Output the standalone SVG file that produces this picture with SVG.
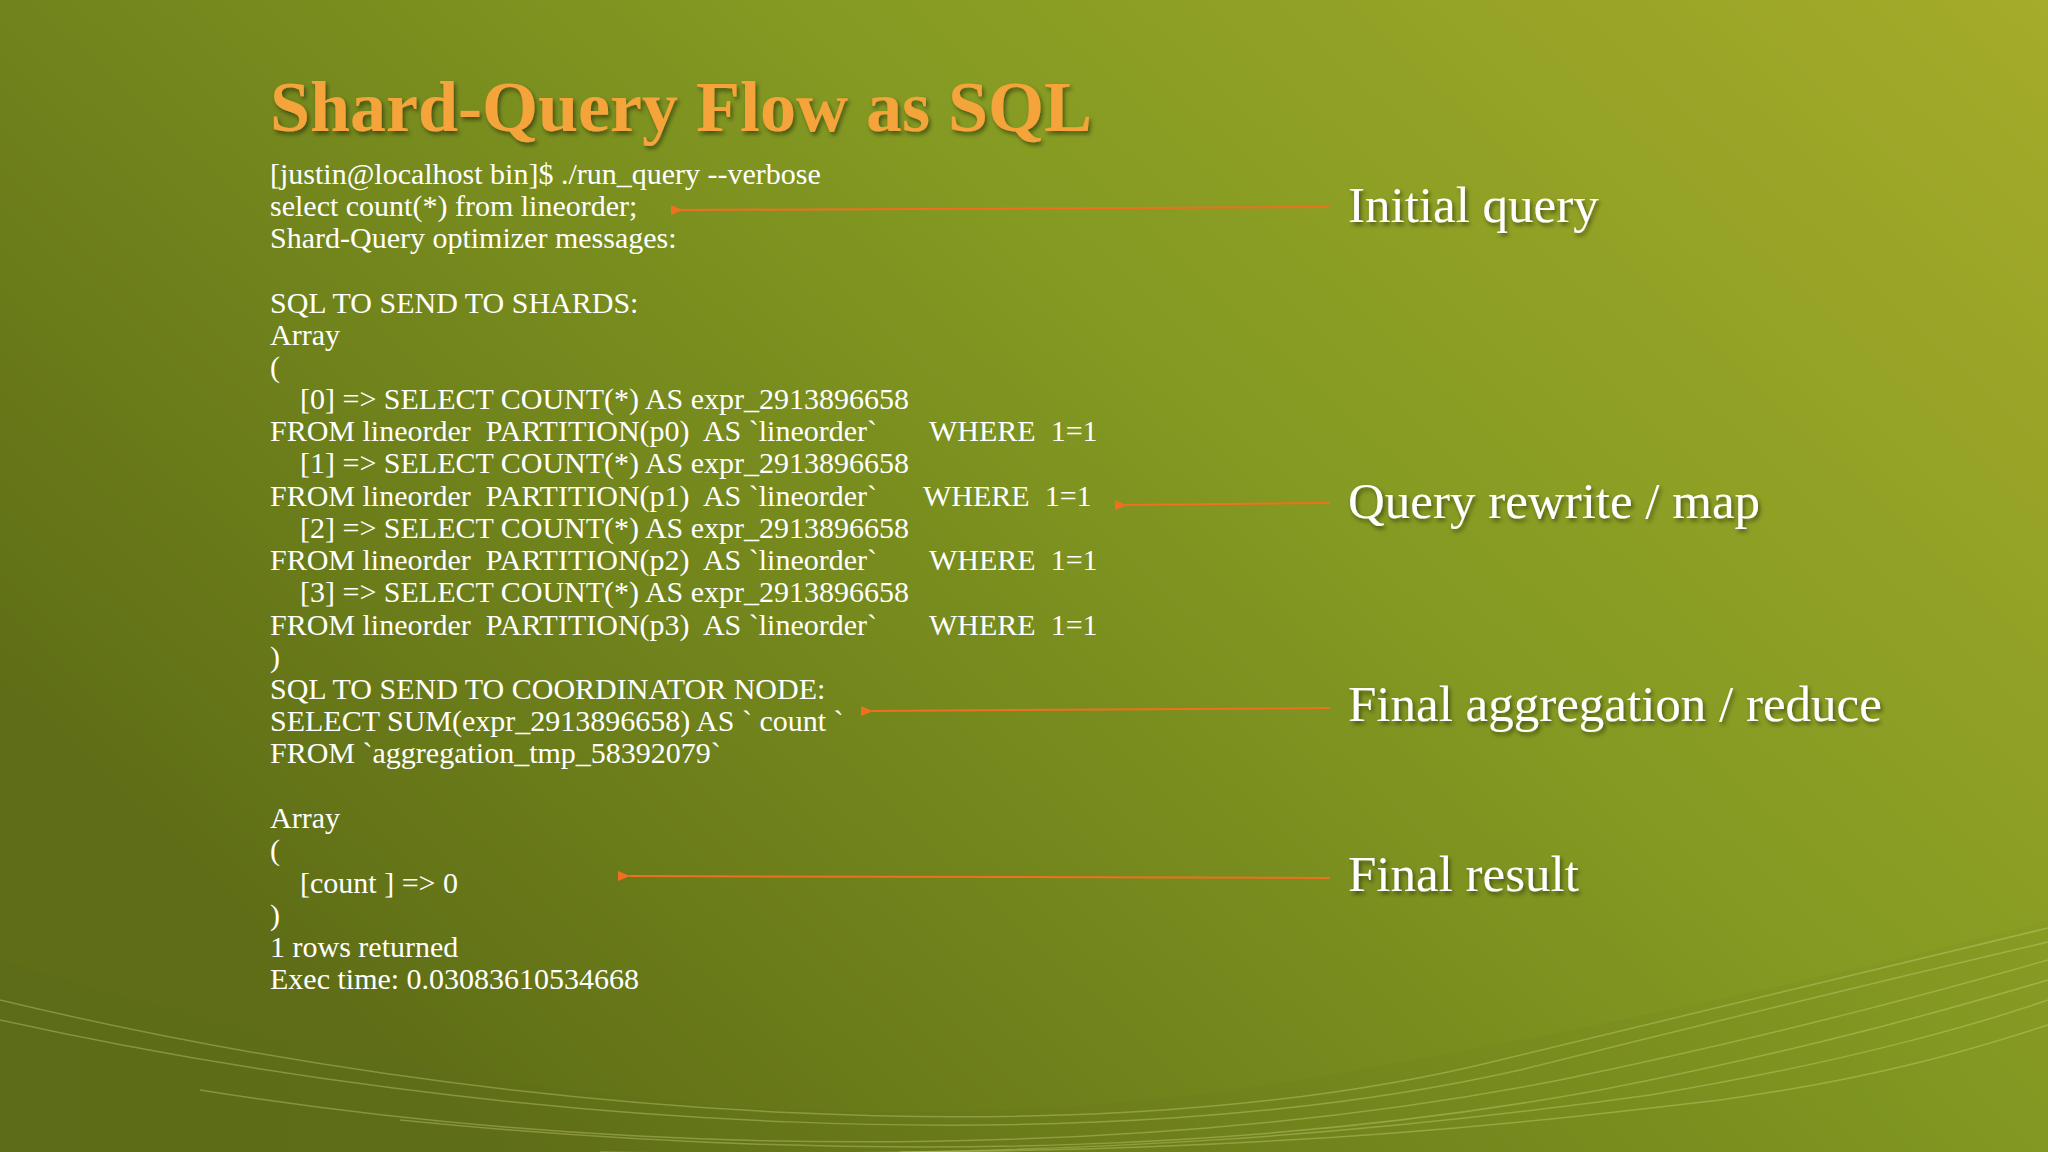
<svg xmlns="http://www.w3.org/2000/svg" width="2048" height="1152" viewBox="0 0 2048 1152">
<defs>
<linearGradient id="bg" x1="0" y1="0.6" x2="1" y2="0">
<stop offset="0" stop-color="#5f6e16"/>
<stop offset="0.55" stop-color="#849a22"/>
<stop offset="1" stop-color="#a5ab2a"/>
</linearGradient>
<linearGradient id="band" x1="0" y1="0" x2="1" y2="0">
<stop offset="0" stop-color="#56661a" stop-opacity="0.6"/>
<stop offset="1" stop-color="#6f8019" stop-opacity="0.2"/>
</linearGradient>
<marker id="ah" markerWidth="12" markerHeight="10" refX="1" refY="5" orient="auto" markerUnits="userSpaceOnUse">
<path d="M12,0 L0,5 L12,10 Z" fill="#f0701e"/>
</marker>
<filter id="sh" x="-5%" y="-20%" width="110%" height="150%">
<feDropShadow dx="2" dy="3" stdDeviation="2" flood-color="#000" flood-opacity="0.45"/>
</filter>
</defs>
<style>
.t{font-family:"Liberation Serif","DejaVu Serif",serif;font-size:30px;fill:#ffffff;white-space:pre}
.lbl{font-family:"Liberation Serif","DejaVu Serif",serif;font-size:51px;fill:#ffffff}
.ttl{font-family:"Liberation Serif","DejaVu Serif",serif;font-size:72px;font-weight:bold;fill:#f5a43a}
.arr{stroke:#f0701e;stroke-width:2;fill:none}
.w{fill:none;stroke:#d8dc8a;stroke-opacity:0.35;stroke-width:1.5}
</style>
<rect width="2048" height="1152" fill="url(#bg)"/>
<path d="M0,960 C400,1080 800,1160 1300,1080 C1650,1020 1900,960 2048,920 L2048,1152 L0,1152 Z" fill="url(#band)" opacity="0.5"/>
<g id="waves">
<path class="w" d="M0,1000 C500,1120 1100,1160 1500,1060 C1750,1000 1950,950 2048,928"/>
<path class="w" d="M0,1020 C500,1130 1100,1165 1520,1070 C1760,1010 1950,965 2048,942"/>
<path class="w" d="M200,1090 C700,1170 1200,1150 1560,1080 C1800,1030 1960,985 2048,960"/>
<path class="w" d="M400,1120 C900,1170 1300,1145 1600,1090 C1830,1045 1980,1000 2048,980"/>
<path class="w" d="M600,1152 C1100,1160 1400,1130 1650,1095 C1860,1060 1990,1020 2048,1000"/>
<path class="w" d="M900,1152 C1300,1150 1550,1120 1720,1100 C1900,1075 2000,1040 2048,1025"/>
</g>
<g id="title"><text class="ttl" x="270" y="131" filter="url(#sh)">Shard-Query Flow as SQL</text></g>
<g id="code">
<text class="t" x="270" y="184">[justin@localhost bin]$ ./run_query --verbose</text>
<text class="t" x="270" y="216">select count(*) from lineorder;</text>
<text class="t" x="270" y="248">Shard-Query optimizer messages:</text>
<text class="t" x="270" y="313">SQL TO SEND TO SHARDS:</text>
<text class="t" x="270" y="345">Array</text>
<text class="t" x="270" y="377">(</text>
<text class="t" x="300" y="409">[0] =&gt; SELECT COUNT(*) AS expr_2913896658</text>
<text class="t" x="270" y="441">FROM lineorder  PARTITION(p0)  AS `lineorder`</text>
<text class="t" x="929" y="441">WHERE  1=1</text>
<text class="t" x="300" y="473">[1] =&gt; SELECT COUNT(*) AS expr_2913896658</text>
<text class="t" x="270" y="506">FROM lineorder  PARTITION(p1)  AS `lineorder`</text>
<text class="t" x="923" y="506">WHERE  1=1</text>
<text class="t" x="300" y="538">[2] =&gt; SELECT COUNT(*) AS expr_2913896658</text>
<text class="t" x="270" y="570">FROM lineorder  PARTITION(p2)  AS `lineorder`</text>
<text class="t" x="929" y="570">WHERE  1=1</text>
<text class="t" x="300" y="602">[3] =&gt; SELECT COUNT(*) AS expr_2913896658</text>
<text class="t" x="270" y="635">FROM lineorder  PARTITION(p3)  AS `lineorder`</text>
<text class="t" x="929" y="635">WHERE  1=1</text>
<text class="t" x="270" y="667">)</text>
<text class="t" x="270" y="699">SQL TO SEND TO COORDINATOR NODE:</text>
<text class="t" x="270" y="731">SELECT SUM(expr_2913896658) AS ` count `</text>
<text class="t" x="270" y="763">FROM `aggregation_tmp_58392079`</text>
<text class="t" x="270" y="828">Array</text>
<text class="t" x="270" y="860">(</text>
<text class="t" x="300" y="893">[count ] =&gt; 0</text>
<text class="t" x="270" y="925">)</text>
<text class="t" x="270" y="957">1 rows returned</text>
<text class="t" x="270" y="989">Exec time: 0.03083610534668</text>
</g>
<g id="connectors">
<line class="arr" x1="1330" y1="207" x2="682" y2="210" marker-end="url(#ah)"/>
<line class="arr" x1="1330" y1="503" x2="1126" y2="505" marker-end="url(#ah)"/>
<line class="arr" x1="1330" y1="708" x2="872" y2="711" marker-end="url(#ah)"/>
<line class="arr" x1="1330" y1="878" x2="629" y2="876" marker-end="url(#ah)"/>
</g>
<g id="lbl1"><text class="lbl" x="1348" y="222" filter="url(#sh)">Initial query</text></g>
<g id="lbl2"><text class="lbl" x="1348" y="518" filter="url(#sh)">Query rewrite / map</text></g>
<g id="lbl3"><text class="lbl" x="1348" y="721" filter="url(#sh)">Final aggregation / reduce</text></g>
<g id="lbl4"><text class="lbl" x="1348" y="891" filter="url(#sh)">Final result</text></g>
</svg>
